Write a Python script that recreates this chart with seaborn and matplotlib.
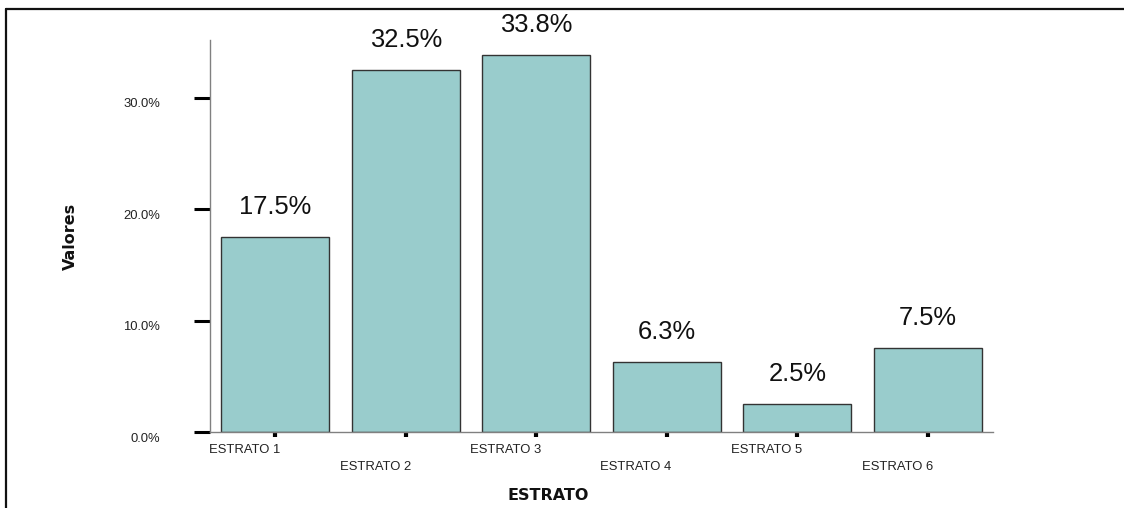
import matplotlib
matplotlib.use("Agg")
import matplotlib.pyplot as plt
from matplotlib.lines import Line2D
from matplotlib.transforms import ScaledTranslation
import seaborn as sns

# Share of households per stratum (percent)
categories = ["ESTRATO 1", "ESTRATO 2", "ESTRATO 3", "ESTRATO 4", "ESTRATO 5", "ESTRATO 6"]
values = [17.5, 32.5, 33.8, 6.3, 2.5, 7.5]
y_ticks = [0, 10, 20, 30]
y_tick_labels = ["0.0%", "10.0%", "20.0%", "30.0%"]

sns.set_theme(style="white")
plt.rcParams["font.family"] = ["Liberation Sans", "DejaVu Sans"]

W, H, DPI = 1124, 508, 100
fig = plt.figure(figsize=(W / DPI, H / DPI), dpi=DPI)
fig.patch.set_facecolor("white")
ax = fig.add_axes([210 / W, 1 - 432 / H, (993 - 210) / W, (432 - 40) / H])

sns.barplot(x=categories, y=values, color="#99CCCC", saturation=1,
            edgecolor="#333333", linewidth=1.0, width=0.83, ax=ax)

ax.set_xlim(-0.5, len(categories) - 0.5)
ax.set_ylim(0, 35.16)

# value labels above each bar
for i, v in enumerate(values):
    ax.annotate(f"{v:.1f}%", (i, v), xytext=(0, 16.5), textcoords="offset points",
                ha="center", va="baseline", fontsize=18.4, color="#111111")

# spines
for s in ("top", "right"):
    ax.spines[s].set_visible(False)
for s in ("left", "bottom"):
    ax.spines[s].set_color("#808080")
    ax.spines[s].set_linewidth(1.0)

# y axis ticks
ax.set_yticks(y_ticks)
ax.set_yticklabels(y_tick_labels)
ax.tick_params(axis="y", direction="out", length=11.5, width=2.2, color="black",
               pad=24.5, labelsize=9.4, labelcolor="#222222", left=True)
for lab in ax.get_yticklabels():
    lab.set_transform(lab.get_transform() + ScaledTranslation(0, -5 / DPI, fig.dpi_scale_trans))

# x axis ticks, labels staggered in two rows
ax.tick_params(axis="x", direction="out", length=3.6, width=3.0, color="black",
               pad=5, labelsize=9.4, labelcolor="#222222", bottom=True)
for i, lab in enumerate(ax.get_xticklabels()):
    lab.set_ha("right")
    dy = 0 if i % 2 == 0 else -17
    lab.set_transform(lab.get_transform() + ScaledTranslation(5 / DPI, dy / DPI, fig.dpi_scale_trans))

# axis titles
ax.set_xlabel("ESTRATO", fontsize=11.5, fontweight="bold", family="DejaVu Sans", color="#111111")
ax.xaxis.set_label_coords((548 - 210) / (993 - 210), -(495 - 432) / (432 - 40))
ax.xaxis.label.set_va("center")
ax.set_ylabel("Valores", fontsize=11.5, fontweight="bold", family="DejaVu Sans", color="#111111")
ax.yaxis.set_label_coords((70 - 210) / (993 - 210), 0.5)
ax.yaxis.label.set_va("center")

# outer frame (top and left edges)
fig.add_artist(Line2D([5.5 / W, 1], [1 - 9 / H, 1 - 9 / H], transform=fig.transFigure,
                      color="#111111", linewidth=1.6))
fig.add_artist(Line2D([5.5 / W, 5.5 / W], [0, 1 - 9 / H], transform=fig.transFigure,
                      color="#111111", linewidth=1.6))

fig.savefig("out.png", dpi=DPI)
